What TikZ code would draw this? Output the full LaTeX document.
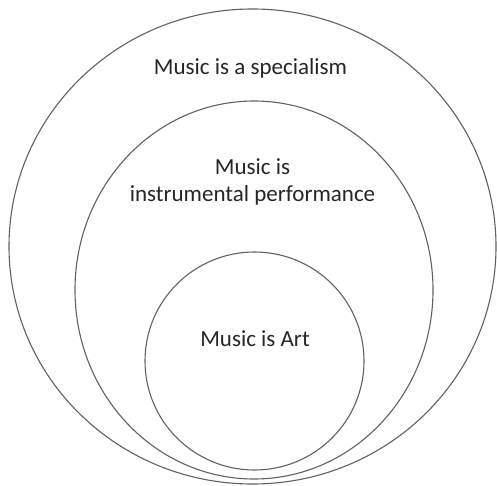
\documentclass[tikz,border=0pt]{standalone}
\usepackage{fontspec}
\setmainfont{Carlito}
\usetikzlibrary{shapes.geometric}
\colorlet{rim}{black!62}

\begin{document}
\begin{tikzpicture}[
        x=1pt,y=-1pt,
        ring/.style={draw=rim,line width=1.1pt,ellipse,inner sep=0pt},
        lbl/.style={font=\fontsize{23}{28}\selectfont,text=black!85,inner sep=0pt,anchor=base}
    ]
    \useasboundingbox (0,0) rectangle (497,486);
    \node[ring,minimum width=487pt,minimum height=475pt] (outer) at (252.5,246.5) {};
    \node[ring,minimum width=358pt,minimum height=378pt] (middle) at (254,290) {};
    \node[ring,minimum width=219pt,minimum height=218pt] (inner) at (254.5,361) {};
    \node[lbl] (special) at (250.5,75) {Music is a specialism};
    \node[lbl,align=center] (perform) at (252.5,202) {Music is\\instrumental performance};
    \node[lbl] (art) at (255,346) {Music is Art};
\end{tikzpicture}
\end{document}
